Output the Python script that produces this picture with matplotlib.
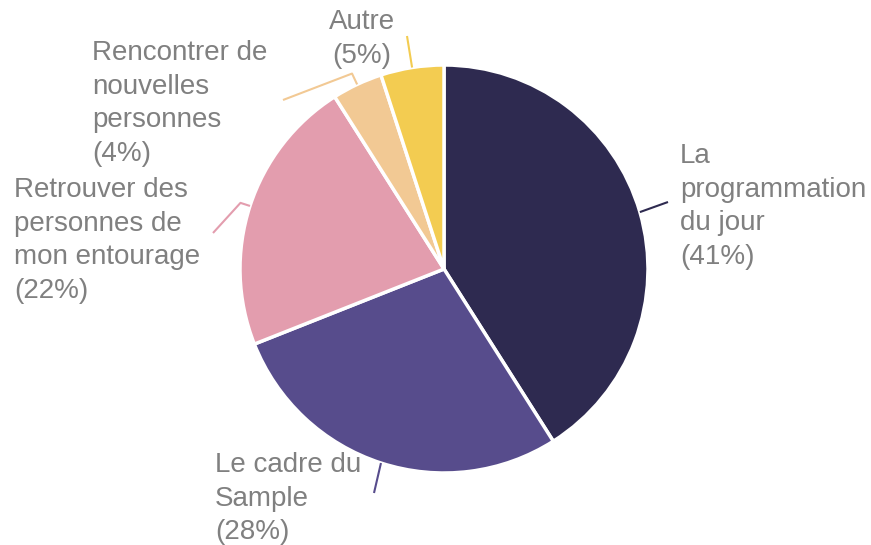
import numpy as np
import matplotlib.pyplot as plt

labels = ["La\nprogrammation\ndu jour", "Le cadre du\nSample",
          "Retrouver des\npersonnes de\nmon entourage",
          "Rencontrer de\nnouvelles\npersonnes", "Autre"]
values = [41, 28, 22, 4, 5]
colors = ["#2e2a50", "#574c8c", "#e39dae", "#f2c994", "#f3cc51"]

W, H = 871, 545
plt.rcParams['font.family'] = ['Liberation Sans', 'DejaVu Sans']

fig = plt.figure(figsize=(W / 100, H / 100), dpi=100)
ax = fig.add_axes([0, 0, 1, 1])

cx, cy, r = 444, H - 269, 204
wedges, _ = ax.pie(values, colors=colors, startangle=90, counterclock=False,
                   center=(cx, cy), radius=r, frame=True,
                   wedgeprops=dict(edgecolor='white', linewidth=2.5, joinstyle='round'))
ax.set_xlim(0, W)
ax.set_ylim(0, H)
ax.axis('off')

# label layout: (text x, text top y in image px, ha, elbow length, line end in image px)
layout = [
    (680, 143, 'left', 0, (668, 202)),
    (215, 452, 'left', 0, (374, 493)),
    (14, 177, 'left', 10, (213, 233)),
    (92, 40, 'left', 12, (283, 100)),
    (362, 9, 'center', 0, (407, 36)),
]

for w, lab, val, col, (tx, ty, ha, elb, end) in zip(wedges, labels, values, colors, layout):
    mid = np.deg2rad((w.theta1 + w.theta2) / 2)
    x0, y0 = cx + r * np.cos(mid), cy + r * np.sin(mid)
    xs, ys = [x0], [y0]
    if elb:
        xs.append(cx + (r + elb) * np.cos(mid))
        ys.append(cy + (r + elb) * np.sin(mid))
    xs.append(end[0])
    ys.append(H - end[1])
    ax.plot(xs, ys, color=col, lw=1.5, solid_capstyle='butt')
    ax.text(tx, H - ty, f"{lab}\n({val}%)", ha=ha, va='top', multialignment=ha,
            fontsize=20, color='#808080', linespacing=1.38)

fig.savefig('out.png', dpi=100)
